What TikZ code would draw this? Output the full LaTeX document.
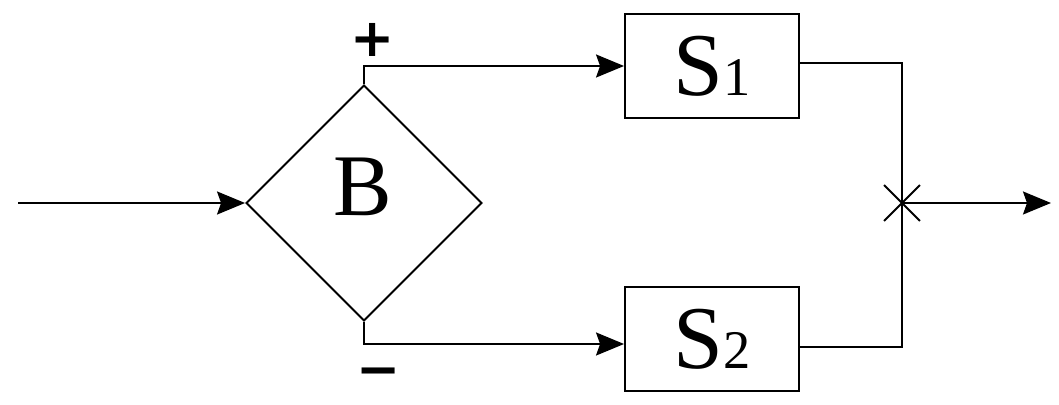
\documentclass[tikz,border=0pt]{standalone}
\usepackage{fontspec}
\setmainfont{Liberation Serif}
\newfontfamily\signfont{DejaVu Sans}
\usetikzlibrary{arrows.meta, positioning, shapes.geometric, shapes.misc}

\begin{document}
\begin{tikzpicture}[
    x=0.02cm, y=-0.02cm,
    line width=1.1pt,
    >={Stealth[length=5.6mm, width=4.6mm, inset=0.8mm]},
    block/.style={draw, minimum width=3.48cm, minimum height=2.08cm, inner sep=0pt,
        font=\fontsize{51}{54}\selectfont},
    decision/.style={draw, diamond, minimum size=4.72cm, inner sep=0pt},
    bigtext/.style={inner sep=0pt, font=\fontsize{50}{52}\selectfont},
    sign/.style={inner sep=0pt, font=\signfont\bfseries\fontsize{30}{32}\selectfont},
    junction/.style={draw, cross out, minimum size=0.68cm, inner sep=0pt},
]
\useasboundingbox (0,0) rectangle (1059,405);

\node[decision] (B) at (364,203) {};
\node[bigtext] (Btext) at (363,187) {B};

\node[block] (S1) at (712,66) {S{\fontsize{31}{32}\selectfont 1}};
\node[block] (S2) at (712,339) {S{\fontsize{31}{32}\selectfont 2}};

\node[sign] (plus) at (373,40) {+};
\node[sign] (minus) at (379,378) {−};

\node[junction] (jn) at (902,203) {};

\coordinate (in) at (18,203);
\coordinate (out) at (1051,203);

\draw[->] (in) -- (B.west);
\draw[->] (B.north) |- (S1.west);
\draw[->] (B.south) |- ([yshift=-0.1cm]S2.west);

\draw ([yshift=0.06cm]S1.east) -| (jn.center) |- ([yshift=-0.16cm]S2.east);
\draw[->] (jn.center) -- (out);

\end{tikzpicture}
\end{document}
